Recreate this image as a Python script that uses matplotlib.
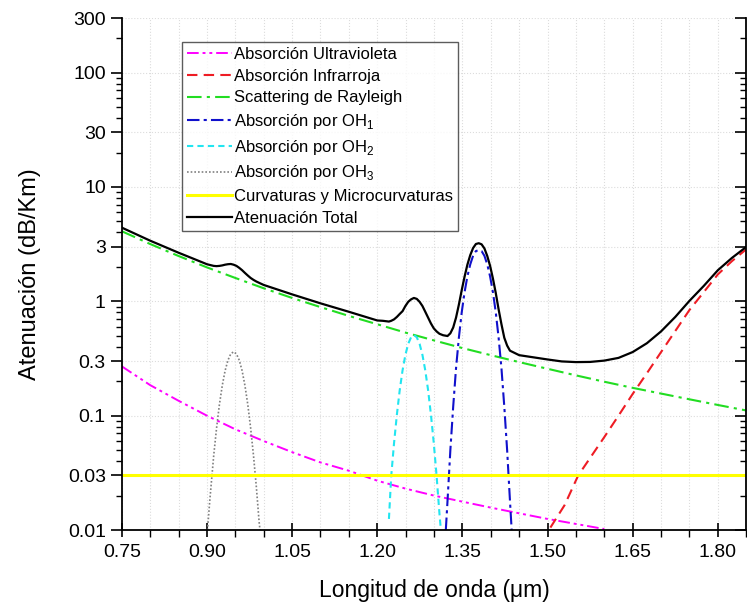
import matplotlib
matplotlib.use("Agg")
import matplotlib.pyplot as plt
from matplotlib.lines import TICKLEFT
from matplotlib.ticker import FixedLocator, FixedFormatter, MultipleLocator, NullFormatter

plt.rcParams["font.family"] = ["Liberation Sans", "DejaVu Sans"]
plt.rcParams["mathtext.fontset"] = "custom"
plt.rcParams["mathtext.rm"] = "Liberation Sans"

# values (wavelength in um, attenuation in dB/km)
uv_wl = [0.75, 0.80, 0.85, 0.90, 0.95, 1.00, 1.05, 1.10, 1.15, 1.20, 1.25, 1.30,
         1.35, 1.40, 1.45, 1.50, 1.55, 1.60]
uv_att = [0.27, 0.185, 0.135, 0.10, 0.076, 0.06, 0.048, 0.039, 0.033, 0.027, 0.023,
          0.020, 0.0177, 0.0157, 0.014, 0.0125, 0.0113, 0.0102]

ir_wl = [1.505, 1.53, 1.554, 1.60, 1.625, 1.65, 1.675, 1.70, 1.725, 1.75, 1.775,
         1.80, 1.825, 1.85]
ir_att = [0.0105, 0.0165, 0.03, 0.065, 0.10, 0.155, 0.235, 0.36, 0.55, 0.84, 1.2,
          1.72, 2.25, 2.85]

ray_wl = [0.75, 0.80, 0.85, 0.90, 0.95, 1.00, 1.05, 1.10, 1.15, 1.20, 1.25, 1.30,
          1.35, 1.40, 1.45, 1.50, 1.55, 1.60, 1.65, 1.70, 1.75, 1.80, 1.85]
ray_att = [4.1, 3.17, 2.49, 1.98, 1.6, 1.3, 1.07, 0.89, 0.745, 0.63, 0.532, 0.455,
           0.39, 0.338, 0.294, 0.257, 0.225, 0.198, 0.175, 0.156, 0.139, 0.124, 0.111]

oh1_wl = [1.3208, 1.3238, 1.3288, 1.3338, 1.3388, 1.3438, 1.3488, 1.3538, 1.3588,
          1.3638, 1.3688, 1.3738, 1.3788, 1.3838, 1.3888, 1.3938, 1.3988, 1.4038,
          1.4088, 1.4138, 1.4188, 1.4238, 1.4288, 1.4338, 1.4368]
oh1_att = [0.01, 0.018, 0.05, 0.12, 0.26, 0.48, 0.8, 1.2, 1.65,
           2.1, 2.5, 2.75, 2.8, 2.75, 2.5, 2.1, 1.65, 1.2,
           0.8, 0.48, 0.26, 0.12, 0.05, 0.018, 0.01]

oh2_wl = [1.2206, 1.2246, 1.2296, 1.2346, 1.2396, 1.2446, 1.2496, 1.2546, 1.2596,
          1.2646, 1.2696, 1.2746, 1.2796, 1.2846, 1.2896, 1.2946, 1.2996, 1.3046,
          1.3096, 1.3126]
oh2_att = [0.0125, 0.0295, 0.0575, 0.102, 0.167, 0.249, 0.34, 0.425, 0.485,
           0.507, 0.485, 0.425, 0.34, 0.249, 0.167, 0.102, 0.0575, 0.0295,
           0.0139, 0.0093]

oh3_wl = [0.900, 0.905, 0.912, 0.917, 0.922, 0.927, 0.932, 0.937, 0.942, 0.947,
          0.952, 0.957, 0.962, 0.967, 0.972, 0.977, 0.982, 0.987, 0.992, 0.994]
oh3_att = [0.0086, 0.018, 0.045, 0.078, 0.125, 0.183, 0.247, 0.305, 0.347, 0.362,
           0.347, 0.305, 0.247, 0.183, 0.125, 0.078, 0.045, 0.024, 0.0117, 0.0095]

bend_wl = [0.75, 1.85]
bend_att = [0.03, 0.03]

total_wl = [0.75, 0.80, 0.85, 0.875, 0.90, 0.905, 0.912, 0.917, 0.922, 0.927,
            0.932, 0.937, 0.942, 0.947, 0.952, 0.957, 0.962, 0.967, 0.972, 0.977,
            0.982, 0.987, 0.992, 1.00, 1.05, 1.10, 1.15, 1.20, 1.21, 1.2206,
            1.2246, 1.2296, 1.2346, 1.2396, 1.2446, 1.2496, 1.2546, 1.2596, 1.2646,
            1.2696, 1.2746, 1.2796, 1.2846, 1.2896, 1.2946, 1.2996, 1.3046, 1.3096,
            1.316, 1.3238, 1.3288, 1.3338, 1.3388, 1.3438, 1.3488, 1.3538, 1.3588,
            1.3638, 1.3688, 1.3738, 1.3788, 1.3838, 1.3888, 1.3938, 1.3988, 1.4038,
            1.4088, 1.4138, 1.4188, 1.4238, 1.4288, 1.4338, 1.45, 1.50, 1.525,
            1.55, 1.575, 1.60, 1.625, 1.65, 1.675, 1.70, 1.725, 1.75, 1.775, 1.80,
            1.825, 1.85]
total_att = [4.41, 3.39, 2.66, 2.37, 2.11, 2.08, 2.04, 2.03, 2.04, 2.06,
             2.09, 2.11, 2.12, 2.09, 2.04, 1.96, 1.87, 1.77, 1.68, 1.60,
             1.54, 1.49, 1.45, 1.39, 1.15, 0.96, 0.81, 0.68, 0.675, 0.665,
             0.675, 0.695, 0.73, 0.775, 0.82, 0.91, 0.99, 1.04, 1.07,
             1.05, 0.99, 0.91, 0.81, 0.72, 0.64, 0.58, 0.545, 0.52,
             0.505, 0.497, 0.525, 0.59, 0.72, 0.935, 1.25, 1.64, 2.09,
             2.53, 2.92, 3.17, 3.22, 3.15, 2.9, 2.49, 2.04, 1.58,
             1.18, 0.85, 0.63, 0.48, 0.41, 0.37, 0.338, 0.31, 0.298,
             0.294, 0.295, 0.303, 0.32, 0.36, 0.43, 0.546, 0.73, 1.01, 1.36, 1.87,
             2.4, 2.99]

y_ticks = [0.01, 0.03, 0.1, 0.3, 1, 3, 10, 30, 100, 300]
y_labels = ["0.01", "0.03", "0.1", "0.3", "1", "3", "10", "30", "100", "300"]
x_ticks = [0.75, 0.90, 1.05, 1.20, 1.35, 1.50, 1.65, 1.80]
x_labels = ["0.75", "0.90", "1.05", "1.20", "1.35", "1.50", "1.65", "1.80"]

fig = plt.figure(figsize=(7.47, 6.09), dpi=100)
ax = fig.add_axes([0.163, 0.1297, 0.836, 0.8407])

ax.plot(uv_wl, uv_att, color="#ff00ff", lw=1.4, dashes=(6, 2, 1.5, 2, 1.5, 2),
        label="Absorción Ultravioleta")
ax.plot(ir_wl, ir_att, color="#ee1c24", lw=1.5, dashes=(5, 3),
        label="Absorción Infrarroja")
ax.plot(ray_wl, ray_att, color="#22dd22", lw=1.5, dashes=(7, 2.5, 1.5, 2.5),
        label="Scattering de Rayleigh")
ax.plot(oh1_wl, oh1_att, color="#1010cc", lw=1.5, dashes=(6, 2, 1.5, 2),
        label="Absorción por OH$_1$")
ax.plot(oh2_wl, oh2_att, color="#22e5f0", lw=1.5, dashes=(3, 2),
        label="Absorción por OH$_2$")
ax.plot(oh3_wl, oh3_att, color="#808080", lw=1.2, dashes=(1, 1.2),
        label="Absorción por OH$_3$")
ax.plot(bend_wl, bend_att, color="#ffff00", lw=2.2,
        label="Curvaturas y Microcurvaturas")
ax.plot(total_wl, total_att, color="black", lw=1.6, label="Atenuación Total")

ax.set_yscale("log")
ax.set_xlim(0.75, 1.85)
ax.set_ylim(0.01, 300)

ax.yaxis.set_major_locator(FixedLocator(y_ticks))
ax.yaxis.set_major_formatter(FixedFormatter(y_labels))
minor_y = [m * 10.0 ** e for e in range(-2, 3) for m in (2, 4, 5, 6, 7, 8, 9)]
ax.yaxis.set_minor_locator(FixedLocator(minor_y))
ax.yaxis.set_minor_formatter(NullFormatter())
ax.xaxis.set_major_locator(FixedLocator(x_ticks))
ax.xaxis.set_major_formatter(FixedFormatter(x_labels))
ax.xaxis.set_minor_locator(MultipleLocator(0.05))

ax.grid(which="major", axis="y", color="#dcdcdc", lw=0.8, ls=":")
ax.grid(which="both", axis="x", color="#dcdcdc", lw=0.8, ls=":")
ax.set_axisbelow(True)

ax.spines["top"].set_visible(False)
for side in ("left", "bottom", "right"):
    ax.spines[side].set_linewidth(1.3)
ax.tick_params(axis="y", which="major", direction="out", length=8, width=1.2,
               labelsize=14, right=True)
ax.tick_params(axis="y", which="minor", direction="out", length=4, width=1.0,
               right=True)
ax.tick_params(axis="x", which="major", direction="inout", length=10, width=1.2,
               labelsize=14, pad=5)
ax.tick_params(axis="x", which="minor", direction="out", length=5, width=1.0)
# ticks on the right spine point inward
for tick in ax.yaxis.get_major_ticks() + ax.yaxis.get_minor_ticks():
    tick.tick2line.set_marker(TICKLEFT)

ax.set_xlabel("Longitud de onda (\u03bcm)", fontsize=16.5, labelpad=13)
ax.set_ylabel("Atenuación (dB/Km)", fontsize=17, labelpad=19)

leg = ax.legend(loc="upper left", bbox_to_anchor=(0.097, 0.953), fontsize=12,
                frameon=True, fancybox=False, edgecolor="#333333",
                handlelength=2.65, handletextpad=0.12, labelspacing=0.4,
                borderpad=0.3, borderaxespad=0)
leg.get_frame().set_linewidth(1.0)

fig.savefig("out.png", dpi=100)
